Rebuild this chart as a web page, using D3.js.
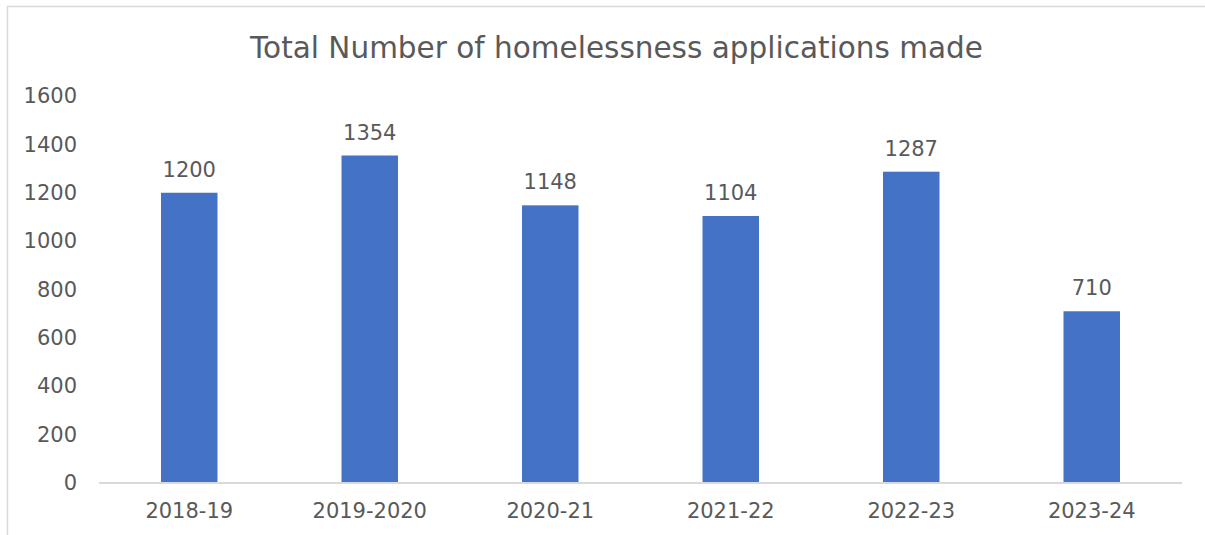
<!DOCTYPE html>
<html>
<head>
<meta charset="utf-8">
<script src="https://cdn.jsdelivr.net/npm/d3@7"></script>
<style>
  html, body { margin: 0; padding: 0; background: #fff; }
  svg { display: block; }
  text { font-family: "DejaVu Sans", Verdana, sans-serif; fill: #595959; }
</style>
</head>
<body>
<svg id="chart" width="1205" height="535"></svg>
<script>
// Homelessness applications per year
const years = ["2018-19", "2019-2020", "2020-21", "2021-22", "2022-23", "2023-24"];
const applications = [1200, 1354, 1148, 1104, 1287, 710];
const yTicks = [0, 200, 400, 600, 800, 1000, 1200, 1400, 1600];
const chartTitle = "Total Number of homelessness applications made";

const svg = d3.select("#chart");
const W = 1205, H = 535;
const plot = { left: 99, right: 1182, top: 96, bottom: 483 };
const labelFont = "21px";

// outer frame
svg.append("rect")
  .attr("x", 7.5).attr("y", 6.5)
  .attr("width", W + 10).attr("height", H + 10)
  .attr("fill", "none").attr("stroke", "#d9d9d9").attr("stroke-width", 1.5);

const x = d3.scaleBand()
  .domain(years)
  .range([plot.left, plot.right])
  .paddingInner(0.687)
  .paddingOuter(0.3435);

const y = d3.scaleLinear()
  .domain([0, 1600])
  .range([plot.bottom, plot.top]);

// title
svg.append("text")
  .attr("x", 616.5)
  .attr("y", 58)
  .attr("text-anchor", "middle")
  .style("font-size", "29.5px")
  .text(chartTitle);

// y axis labels
const yAxis = d3.axisLeft(y).tickValues(yTicks).tickFormat(d3.format("d")).tickSize(0).tickPadding(22);
const gy = svg.append("g").attr("transform", `translate(${plot.left},0)`).call(yAxis);
gy.select(".domain").remove();
gy.selectAll("text")
  .style("font-size", labelFont)
  .attr("fill", "#595959")
  .style("font-family", "\"DejaVu Sans\", Verdana, sans-serif");

// bars
svg.append("g").selectAll("rect")
  .data(years)
  .join("rect")
  .attr("x", (d) => x(d))
  .attr("width", x.bandwidth())
  .attr("y", (d, i) => y(applications[i]))
  .attr("height", (d, i) => y(0) - y(applications[i]))
  .attr("fill", "#4472C4");

// value labels
svg.append("g").selectAll("text")
  .data(years)
  .join("text")
  .attr("x", (d) => x(d) + x.bandwidth() / 2)
  .attr("y", (d, i) => y(applications[i]) - 16)
  .attr("text-anchor", "middle")
  .style("font-size", labelFont)
  .text((d, i) => applications[i]);

// x axis
const xAxis = d3.axisBottom(x).tickSize(0).tickPadding(20);
const gx = svg.append("g").attr("transform", `translate(0,${plot.bottom})`).call(xAxis);
gx.select(".domain").attr("stroke", "#d9d9d9").attr("stroke-width", 2)
  .attr("d", `M${plot.left},0H${plot.right}`);
gx.selectAll("text")
  .style("font-size", labelFont)
  .attr("fill", "#595959")
  .style("font-family", "\"DejaVu Sans\", Verdana, sans-serif");
</script>
</body>
</html>
